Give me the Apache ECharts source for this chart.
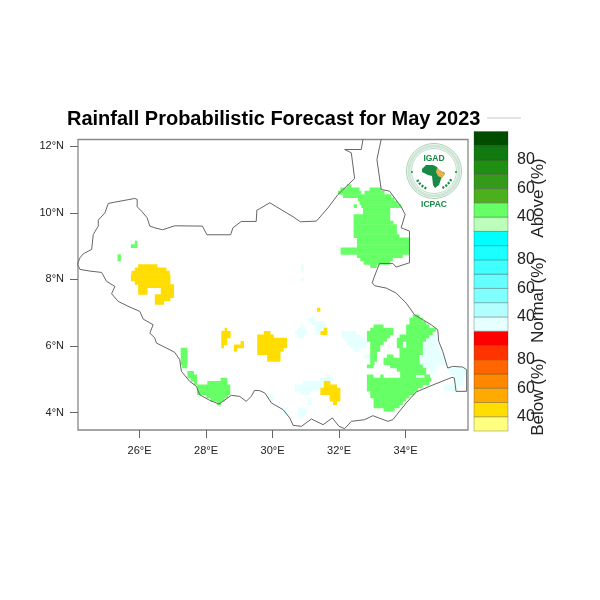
<!DOCTYPE html>
<html>
<head>
<meta charset="utf-8">
<style>html,body{margin:0;padding:0;background:#fff}#c{width:600px;height:600px}</style>
<script src="https://cdn.jsdelivr.net/npm/echarts@6/dist/echarts.min.js"></script>
</head>
<body>
<div id="c"></div>
<script>
const chartTitle = 'Rainfall Probabilistic Forecast for May 2023';
const lonTicks = [26, 28, 30, 32, 34];
const latTicks = [4, 6, 8, 10, 12];

// Forecast cells: [lat, lonStart, lonEnd]
const aboveRuns = [
[10.80,32.24,32.37],[10.70,32.04,32.62],[10.70,32.92,33.27],[10.60,31.97,32.67],[10.60,32.77,33.37],
[10.50,32.12,33.57],[10.40,32.57,33.67],[10.30,32.62,33.77],[10.20,32.44,32.54],[10.20,32.67,33.87],
[10.10,32.72,33.54],[10.00,32.72,33.54],[9.90,32.44,33.54],[9.80,32.44,33.54],[9.70,32.44,33.64],
[9.60,32.44,33.74],[9.50,32.44,33.74],[9.40,32.44,33.74],[9.30,32.44,33.82],[9.20,32.54,34.12],
[9.10,32.54,34.12],[9.00,32.54,34.12],[8.90,32.05,34.12],[8.80,32.05,34.12],[8.70,32.54,33.92],
[8.60,32.64,33.62],[8.50,32.74,33.54],[8.40,32.94,33.14],
[9.10,25.86,25.94],[9.00,25.74,25.94],[8.70,25.34,25.44],[8.60,25.34,25.44],
[5.89,27.24,27.44],[5.79,27.24,27.44],[5.69,27.24,27.44],[5.59,27.24,27.44],[5.49,27.24,27.44],[5.39,27.28,27.43],
[5.19,27.44,27.64],[5.09,27.44,27.73],[4.99,27.54,27.73],[4.99,28.44,28.64],[4.89,27.64,27.73],[4.89,28.04,28.64],
[4.79,27.73,28.73],[4.69,27.73,28.73],[4.59,27.73,28.73],[4.49,28.01,28.66],[4.39,28.13,28.56],[4.29,28.33,28.46],
[6.89,34.22,34.42],[6.79,34.12,34.52],[6.69,34.12,34.62],[6.59,33.04,33.34],[6.59,34.02,34.72],
[6.49,32.94,33.64],[6.49,34.02,34.92],[6.39,32.84,33.64],[6.39,34.02,34.82],[6.29,32.84,33.54],[6.29,33.82,34.72],
[6.19,32.84,33.44],[6.19,33.74,34.62],[6.09,32.94,33.34],[6.09,33.74,33.92],[6.09,34.02,34.52],
[5.99,32.94,33.24],[5.99,33.74,33.92],[5.99,34.02,34.52],[5.89,32.94,33.24],[5.89,33.82,34.52],
[5.79,32.94,33.14],[5.79,33.82,34.52],[5.69,32.94,33.14],[5.69,33.44,33.64],[5.69,33.82,34.42],
[5.59,32.94,33.14],[5.59,33.34,34.42],[5.49,32.94,33.07],[5.49,33.34,34.42],[5.39,32.84,33.04],[5.39,33.54,34.52],
[5.29,33.74,34.62],[5.19,33.84,34.62],[5.09,32.84,33.04],[5.09,33.24,33.34],[5.09,33.84,34.32],[5.09,34.57,34.74],
[4.99,32.84,34.77],[4.89,32.84,34.72],[4.79,32.84,34.52],[4.69,32.84,34.37],[4.59,32.94,34.27],
[4.49,32.94,34.12],[4.39,33.04,34.02],[4.29,33.04,33.92],[4.19,33.04,33.82],[4.09,33.34,33.67]
];
const normalRuns = [
[6.39,32.07,32.52],[6.29,32.07,32.67],[6.19,32.17,32.77],[6.09,32.24,32.84],[5.99,32.34,32.84],[5.89,32.44,32.62],
[5.69,32.74,32.94],[5.59,32.84,32.94],
[6.79,31.07,31.27],[6.69,31.17,31.57],[6.59,31.27,31.62],[6.49,31.27,31.54],[6.39,31.27,31.44],
[6.59,30.84,30.94],[6.49,30.77,31.02],[6.39,30.67,31.02],[6.29,30.74,30.94],
[5.09,31.62,31.77],[4.99,31.42,31.82],[4.89,30.92,31.52],[4.79,30.67,31.52],[4.69,30.67,31.42],[4.59,30.87,31.12],
[4.49,29.87,30.02],[4.39,29.92,30.04],[4.39,31.07,31.17],[4.29,31.07,31.17],
[4.09,30.34,30.47],[4.09,30.77,31.02],[3.99,30.34,30.47],[3.99,30.77,31.02],[3.89,30.77,30.92],
[8.39,30.86,30.94],[8.29,30.86,30.94],[7.99,30.86,30.94],
[6.29,34.73,34.93],[6.19,34.63,34.95],[6.09,34.53,34.96],[5.99,34.48,34.99],[5.89,34.48,35.03],[5.79,34.48,35.08],
[5.69,34.45,35.13],[5.59,34.35,35.18],[5.49,34.35,35.23],[5.39,34.48,34.93],[5.29,34.73,34.91],[5.29,35.28,35.85],
[5.19,34.78,34.88],[5.19,35.33,35.85],[5.09,34.35,34.55],[5.09,35.48,35.78],[4.99,35.48,35.73],[4.89,35.43,35.73],
[4.79,35.16,35.58],[4.69,35.16,35.58]
];
const belowRuns = [
[8.40,25.96,26.54],[8.30,25.86,26.81],[8.20,25.76,26.91],[8.10,25.74,26.93],[8.00,25.74,26.93],[7.90,25.86,26.93],
[7.80,25.96,27.04],[7.70,25.96,26.24],[7.70,26.64,27.04],[7.60,25.96,26.24],[7.60,26.64,27.04],[7.50,26.46,27.04],
[7.40,26.46,26.93],[7.30,26.46,26.74],
[6.49,28.56,28.64],[6.39,28.46,28.74],[6.29,28.46,28.74],[6.19,28.46,28.64],[6.09,28.46,28.64],[5.99,28.46,28.54],
[6.09,29.04,29.14],[5.99,28.84,29.14],[5.89,28.84,28.94],
[6.39,29.74,29.94],[6.29,29.54,30.04],[6.19,29.54,30.44],[6.09,29.54,30.44],[5.99,29.54,30.44],[5.89,29.54,30.34],
[5.79,29.54,30.24],[5.69,29.84,30.24],[5.59,29.84,30.24],
[7.09,31.34,31.44],[6.49,31.54,31.65],[6.39,31.44,31.65],
[4.89,31.54,31.74],[4.79,31.54,31.94],[4.69,31.44,32.04],[4.59,31.44,32.04],[4.49,31.72,32.04],[4.39,31.72,32.04],[4.29,31.82,31.94]
];

// Country outline: [lon, lat]
const boundary = [
[24.13,8.45],[24.21,8.65],[24.31,8.77],[24.56,8.90],[24.61,9.35],[24.76,9.60],[24.76,9.78],[24.96,10.00],[25.06,10.28],
[25.26,10.32],[25.86,10.43],[25.93,10.40],[25.93,10.18],[26.06,10.05],[26.23,9.85],[26.31,9.60],[26.46,9.55],[26.69,9.49],
[27.06,9.61],[27.89,9.60],[28.03,9.34],[28.74,9.34],[28.81,9.55],[29.06,9.74],[29.51,9.74],[29.53,10.08],[29.61,10.12],
[29.92,10.30],[30.62,9.88],[30.84,9.73],[31.32,9.75],[31.67,10.15],[31.97,10.55],[32.47,11.03],[32.37,11.80],[32.17,11.90],
[32.67,11.90],[32.74,12.30],[33.29,12.30],[33.14,11.60],[33.27,10.70],[33.52,10.65],[33.87,10.18],[33.99,9.95],[33.87,9.55],
[34.12,9.45],[34.12,8.50],[33.72,8.37],[33.62,8.48],[33.22,8.48],[33.07,8.10],[33.00,7.90],[33.07,7.81],[33.42,7.74],
[33.72,7.59],[34.02,7.29],[34.27,6.94],[34.52,6.79],[34.77,6.64],[34.97,6.49],[35.00,6.14],[35.12,5.84],[35.27,5.34],
[35.42,5.39],[35.72,5.37],[35.84,5.29],[35.84,4.64],[35.52,4.64],[35.47,5.04],[35.40,5.06],[34.77,4.81],[34.32,4.62],
[34.02,4.29],[33.62,3.79],[33.47,3.74],[33.02,3.91],[32.77,3.79],[32.37,3.74],[32.17,3.52],[32.00,3.59],[31.80,3.84],
[31.52,3.64],[31.17,3.81],[30.87,3.59],[30.62,3.62],[30.52,3.84],[30.32,4.09],[29.97,4.29],[29.77,4.59],[29.62,4.66],
[29.46,4.67],[29.36,4.49],[29.21,4.34],[29.01,4.49],[28.76,4.52],[28.51,4.34],[28.39,4.26],[28.11,4.37],[27.81,4.54],
[27.71,4.79],[27.51,4.94],[27.26,5.24],[27.21,5.59],[27.06,5.81],[26.81,5.94],[26.51,6.09],[26.46,6.24],[26.31,6.39],
[26.41,6.64],[26.11,6.81],[26.01,7.04],[25.71,7.17],[25.36,7.34],[25.16,7.57],[25.26,7.79],[25.01,7.94],[24.86,8.21],
[24.51,8.25],[24.21,8.30],[24.13,8.45]
];

// Colour bar, bottom to top
const barColors = ['#ffff80','#ffdd00','#ffaa00','#ff8800','#ff6600','#ff3300','#ff0000',
  '#e6ffff','#b3ffff','#80ffff','#66ffff','#40ffff','#1affff','#00ffff',
  '#bbffbb','#66ff66','#4bb01b','#339a1a','#1f8f12','#107a10','#004d00'];
const barTickValues = [1,3,5,8,10,12,15,17,19];
const barTickLabels = ['40','60','80','40','60','80','40','60','80'];
const barTitles = ['Above (%)','Normal (%)','Below (%)'];

const aboveColor = '#66ff66', normalColor = '#e6ffff', belowColor = '#ffdd00';
const FONT = '"Liberation Sans", Arial, sans-serif';

function cellSeries(name, runs, color) {
  return {
    type: 'custom', name, xAxisIndex: 0, yAxisIndex: 0, clip: true, z: 2,
    data: runs,
    encode: { x: [1, 2], y: 0 },
    renderItem(params, api) {
      const a = api.coord([api.value(1), api.value(0) + 0.058]);
      const b = api.coord([api.value(2), api.value(0) - 0.058]);
      return { type: 'rect', shape: { x: a[0], y: a[1], width: b[0] - a[0], height: b[1] - a[1] },
        style: { fill: color } };
    }
  };
}

// IGAD/ICPAC logo
const logoGreen = '#178a45';
const logoChildren = [
  { type: 'circle', shape: { cx: 0, cy: 0, r: 27.5 }, style: { fill: '#fff', stroke: '#8fc4a0', lineWidth: 0.8 } },
  { type: 'circle', shape: { cx: 0, cy: 0, r: 25 }, style: { fill: 'none', stroke: '#cfe5d6', lineWidth: 3 } },
  { type: 'circle', shape: { cx: 0, cy: 0, r: 22.5 }, style: { fill: 'none', stroke: '#8fc4a0', lineWidth: 0.6 } },
  { type: 'polygon', shape: { points: [[-12,-2],[-8,-6],[-1,-6],[3,-4],[5,-1],[11,2],[7,8],[5,14],[1,17],[-1,14],[-2,5],[-6,4],[-12,1]] }, style: { fill: logoGreen } },
  { type: 'polygon', shape: { points: [[3,-3],[6,-1],[11,3],[8,7],[4,5],[2,1]] }, style: { fill: '#e9b04d' } },
  { type: 'arc', shape: { cx: 0, cy: 0, r: 19, startAngle: 0.45, endAngle: 1.15 }, style: { fill: 'none', stroke: logoGreen, lineWidth: 2.4, lineDash: [2, 1.5] } },
  { type: 'arc', shape: { cx: 0, cy: 0, r: 19, startAngle: 1.99, endAngle: 2.69 }, style: { fill: 'none', stroke: logoGreen, lineWidth: 2.4, lineDash: [2, 1.5] } },
  { type: 'circle', shape: { cx: -22, cy: 1, r: 1 }, style: { fill: logoGreen } },
  { type: 'circle', shape: { cx: 22, cy: 1, r: 1 }, style: { fill: logoGreen } },
  { type: 'text', x: 0, y: -12.5, style: { text: 'IGAD', fill: logoGreen, font: 'bold 8.5px ' + FONT, align: 'center', verticalAlign: 'middle' } },
  { type: 'text', x: 0, y: 34, style: { text: 'ICPAC', fill: logoGreen, font: 'bold 8.5px ' + FONT, align: 'center', verticalAlign: 'middle' } }
];

const barTitleY = [198, 300, 397];

const option = {
  animation: false,
  backgroundColor: '#fff',
  title: {
    text: chartTitle, left: 67, top: 109, padding: 0,
    textStyle: { fontFamily: FONT, fontWeight: 'bold', fontSize: 20, color: '#000' }
  },
  grid: [
    { left: 78, top: 139.5, width: 390, height: 290.5, show: true, borderColor: '#888', borderWidth: 1.3, backgroundColor: '#fff' },
    { left: 474, top: 131.5, width: 34, height: 299.5 }
  ],
  xAxis: [
    { type: 'value', gridIndex: 0, min: 24.15, max: 35.88, splitLine: { show: false },
      axisLine: { show: false },
      axisTick: { show: true, length: 8, customValues: lonTicks, lineStyle: { color: '#666' } },
      axisLabel: { customValues: lonTicks, margin: 15, fontFamily: FONT, fontSize: 11, color: '#222', formatter: v => v + '°E' } },
    { type: 'value', gridIndex: 1, min: 0, max: 1, show: false }
  ],
  yAxis: [
    { type: 'value', gridIndex: 0, min: 3.48, max: 12.2, splitLine: { show: false },
      axisLine: { show: false },
      axisTick: { show: true, length: 8, customValues: latTicks, lineStyle: { color: '#666' } },
      axisLabel: { customValues: latTicks, margin: 14, fontFamily: FONT, fontSize: 11, color: '#222', formatter: v => v + '°N' } },
    { type: 'value', gridIndex: 1, min: 0, max: 21, position: 'right', splitLine: { show: false },
      axisLine: { show: false },
      axisTick: { show: true, length: 7, customValues: [8, 15], lineStyle: { color: '#aaa' } },
      axisLabel: { customValues: barTickValues, margin: 9, fontFamily: FONT, fontSize: 16, color: '#222',
        formatter: v => barTickLabels[barTickValues.indexOf(v)] } }
  ],
  series: [
    cellSeries('Normal', normalRuns, normalColor),
    cellSeries('Above', aboveRuns, aboveColor),
    cellSeries('Below', belowRuns, belowColor),
    { type: 'line', name: 'Boundary', data: boundary, xAxisIndex: 0, yAxisIndex: 0, showSymbol: false, symbol: 'none',
      clip: true, z: 3, lineStyle: { color: '#666', width: 1 } },
    { type: 'custom', name: 'Colour bar', xAxisIndex: 1, yAxisIndex: 1, z: 2,
      data: barColors.map((c, i) => [0, i]),
      renderItem(params, api) {
        const i = api.value(1);
        const a = api.coord([0, i + 1]);
        const b = api.coord([1, i]);
        return { type: 'rect', shape: { x: a[0], y: a[1], width: b[0] - a[0], height: b[1] - a[1] },
          style: { fill: barColors[i], stroke: 'rgba(60,60,60,0.45)', lineWidth: 0.7 } };
      } }
  ],
  graphic: [
    { type: 'line', shape: { x1: 487, y1: 118, x2: 521, y2: 118 }, style: { stroke: '#bbb', lineWidth: 0.8 } },
    { type: 'group', x: 434, y: 171, children: logoChildren, z: 20 },
    ...barTitles.map((t, i) => ({
      type: 'text', x: 538, y: barTitleY[i], rotation: Math.PI / 2, z: 20,
      style: { text: t, font: '17px ' + FONT, fill: '#222', align: 'center', verticalAlign: 'middle' }
    }))
  ]
};
echarts.init(document.getElementById('c'), null, { renderer: 'canvas' }).setOption(option);
</script>
</body>
</html>
